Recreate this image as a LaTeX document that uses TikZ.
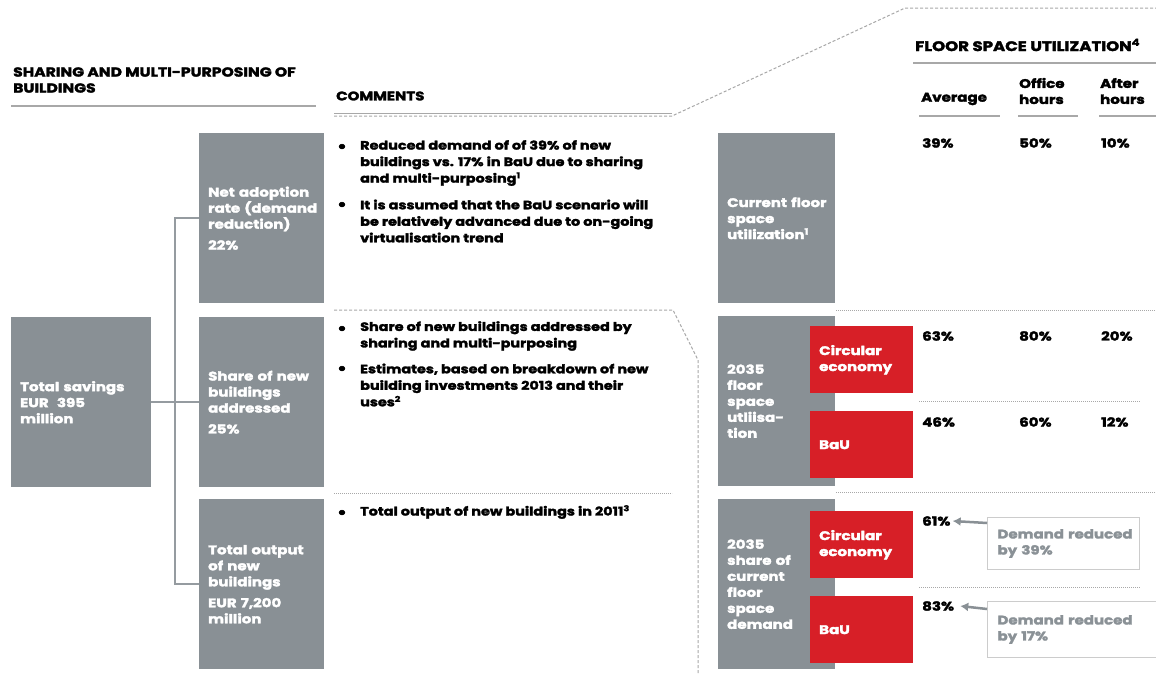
\documentclass[tikz,border=0pt]{standalone}
\usepackage{fontspec}
\setmainfont{Poppins}[FakeStretch=1.2, BoldFeatures={FakeBold=2.4}]
\usetikzlibrary{arrows.meta}
\hyphenpenalty=10000
\exhyphenpenalty=10000
\definecolor{boxgray}{HTML}{899095}
\definecolor{cered}{HTML}{D71F27}
\definecolor{linegray}{HTML}{A8A8A8}
\definecolor{txtgray}{HTML}{8A9196}
\definecolor{dboxline}{HTML}{CCCCCC}
\newcommand\lblfont{\fontsize{12.5}{16}\selectfont\bfseries}
\newcommand\cmtfont{\fontsize{12}{16.5}\selectfont\bfseries}
\newcommand\hdrfont{\fontsize{12.5}{16}\selectfont\bfseries}
\tikzset{
  graybox/.style={fill=boxgray, text=white, font=\lblfont, align=left, inner xsep=9pt, inner ysep=0pt, anchor=north west},
  tallbox/.style={graybox, minimum width=125pt, minimum height=170pt, text width=107pt},
  rightbox/.style={graybox, minimum width=117pt, minimum height=170pt, text width=99pt},
  redbox/.style={fill=cered, text=white, font=\lblfont, align=left, inner xsep=9pt, inner ysep=0pt, anchor=north west, minimum width=103pt, minimum height=67pt, text width=85pt},
  dbox/.style={draw=dboxline, line width=1pt, fill=white, text=txtgray, font=\lblfont, align=left, inner xsep=10pt, inner ysep=0pt, anchor=north west},
  cmt/.style={font=\cmtfont, align=left, anchor=west, inner sep=0pt},
  bul/.style={font=\fontsize{16}{16}\selectfont\bfseries, anchor=center, inner sep=0pt},
  hdr/.style={font=\hdrfont, align=left, anchor=west, inner sep=0pt},
  val/.style={font=\hdrfont, anchor=west, inner sep=0pt},
  sepline/.style={draw=linegray, line width=1.5pt},
  dashline/.style={draw=linegray, line width=1pt, dash pattern=on 3pt off 2pt},
  dotline/.style={draw=linegray, line width=0.8pt, dash pattern=on 0.8pt off 1.2pt},
  conn/.style={draw=boxgray!90, line width=2.5pt},
  arr/.style={draw=boxgray, line width=2.5pt, -{Latex[length=8pt,width=9pt]}}
}
\begin{document}
\begin{tikzpicture}[x=1pt,y=-1pt]
\useasboundingbox[fill=white] (0,0) rectangle (1156,675);

% headers
\node[hdr, font=\fontsize{13}{16}\selectfont\bfseries] (h1) at (13,80) {SHARING AND MULTI-PURPOSING OF\\BUILDINGS};
\draw[sepline] (11,106) -- (316,106);
\node[hdr] (h2) at (336,96) {COMMENTS};
\draw[draw=linegray, line width=1pt] (334,113) -- (672,113);
\draw[dashline] (334,116) -- (672,116) -- (905,8) -- (1156,8);
\node[hdr, font=\fontsize{13.8}{16}\selectfont\bfseries] (h3) at (915,45) {FLOOR SPACE UTILIZATION\textsuperscript{4}};
\draw[sepline] (913,63) -- (1156,63);
\node[hdr] (c1) at (921,99) {Average};
\node[hdr] (c2) at (1019,91) {Office\\hours};
\node[hdr] (c3) at (1100,91) {After\\hours};
\draw[sepline] (919,116) -- (1000,116);
\draw[sepline] (1018,116) -- (1078,116);
\draw[sepline] (1099,116) -- (1156,116);

% left tree
\node[graybox, minimum width=140pt, minimum height=170pt, text width=122pt, inner xsep=9pt] (ts) at (11,317) {Total~savings\\EUR\ \ 395\\million};
\node[tallbox] (net) at (199,133) {Net~adoption\\rate~(demand\\reduction)\\[5pt]22\%};
\node[tallbox] (share) at (199,317) {Share~of~new\\buildings\\addressed\\[5pt]25\%};
\node[tallbox] (out) at (199,499) {Total~output\\of~new\\buildings\\[5pt]EUR~7,200\\million};
\coordinate (j) at (175,402);
\draw[conn] (ts.east) -- (share.west);
\draw[conn] (net.west) -| (j);
\draw[conn] (out.west) -| (j);

% comments
\node[bul] (b1) at (342,148) {\textbullet};
\node[cmt] (t1) at (360,163) {Reduced demand of of 39\% of new\\buildings vs. 17\% in BaU due to sharing\\and multi-purposing\textsuperscript{1}};
\node[bul] (b2) at (342,206) {\textbullet};
\node[cmt] (t2) at (360,221) {It is assumed that the BaU scenario will\\be relatively advanced due to on-going\\virtualisation trend};
\draw[dashline] (334,310) -- (673,310) -- (698,360) -- (698,675);
\node[bul] (b3) at (342,330) {\textbullet};
\node[cmt] (t3) at (360,336) {Share of new buildings addressed by\\sharing and multi-purposing};
\node[bul] (b4) at (342,370) {\textbullet};
\node[cmt] (t4) at (360,385) {Estimates, based on breakdown of new\\building investments 2013 and their\\uses\textsuperscript{2}};
\draw[dotline] (334,493) -- (672,493);
\node[bul] (b5) at (342,514) {\textbullet};
\node[cmt] (t5) at (360,512) {Total output of new buildings in 2011\textsuperscript{3}};

% right side
\node[rightbox] (cur) at (718,133) {Current~floor\\space\\utilization\textsuperscript{1}};
\node[val] (v11) at (922,143) {39\%};
\node[val] (v12) at (1019,143) {50\%};
\node[val] (v13) at (1101,143) {10\%};
\draw[dotline] (836,310) -- (1156,310);

\node[rightbox] (fl) at (718,316) {2035\\floor\\space\\utliisa-\\tion};
\node[redbox] (fce) at (810,326) {Circular\\economy};
\node[redbox] (fbau) at (810,411) {BaU};
\node[val] (v21) at (922,336) {63\%};
\node[val] (v22) at (1019,336) {80\%};
\node[val] (v23) at (1101,336) {20\%};
\draw[dotline] (919,401) -- (1140,401);
\node[val] (v31) at (922,422) {46\%};
\node[val] (v32) at (1019,422) {60\%};
\node[val] (v33) at (1101,422) {12\%};
\draw[dotline] (836,492) -- (1156,492);

\node[rightbox] (dem) at (718,499) {2035\\share~of\\current\\floor\\space\\demand};
\node[redbox] (dce) at (810,511) {Circular\\economy};
\node[redbox] (dbau) at (810,596) {BaU};
\node[val] (p61) at (922,521) {61\%};
\node[dbox, minimum width=152pt, minimum height=52pt, text width=132pt] (d39) at (987,517) {Demand~reduced\\by 39\%};
\draw[arr] ([yshift=-6pt]d39.north west) -- ([xshift=2pt]p61.east);
\draw[dotline] (919,587) -- (1140,587);
\node[val] (p83) at (922,606) {83\%};
\node[dbox, minimum width=180pt, minimum height=56pt, text width=160pt] (d17) at (987,601) {Demand~reduced\\by 17\%};
\draw[arr] ([yshift=-8pt]d17.north west) -- ([xshift=6pt]p83.east);
\end{tikzpicture}
\end{document}
